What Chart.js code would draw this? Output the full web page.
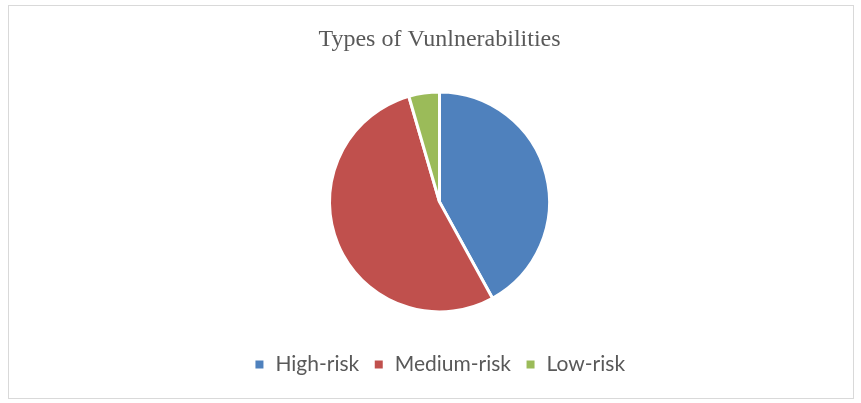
<!DOCTYPE html>
<html>
<head>
<meta charset="utf-8">
<script src="https://cdn.jsdelivr.net/npm/chart.js@4"></script>
<style>
  html, body { margin: 0; padding: 0; background: #fff; }
  #wrap { position: relative; width: 861px; height: 403px; }
  #frame { position: absolute; left: 8px; top: 5px; width: 844px; height: 392px; border: 1px solid #d9d9d9; pointer-events: none; }
</style>
</head>
<body>
<div id="wrap">
  <canvas id="vulnChart" width="861" height="403"></canvas>
  <div id="frame"></div>
</div>
<script>
const categories = ["High-risk", "Medium-risk", "Low-risk"];
const shares = [42, 53.5, 4.5];
const sliceColors = ["#4F81BD", "#C0504D", "#9BBB59"];

document.addEventListener("DOMContentLoaded", () => {
  const ctx = document.getElementById("vulnChart").getContext("2d");

  new Chart(ctx, {
    type: "pie",
    data: {
      labels: categories,
      datasets: [
        {
          data: shares,
          backgroundColor: sliceColors,
          borderColor: "#ffffff",
          borderWidth: 3,
          hoverOffset: 0,
          radius: 110
        }
      ]
    },
    options: {
      responsive: false,
      animation: false,
      layout: {
        padding: { top: 17, bottom: 18, left: 18, right: 0 }
      },
      plugins: {
        title: {
          display: true,
          text: "Types of Vunlnerabilities",
          color: "#595959",
          font: { family: "Liberation Serif", size: 24, weight: "normal" },
          padding: { top: 8, bottom: 10 }
        },
        legend: {
          position: "bottom",
          labels: {
            color: "#595959",
            font: { family: "Lato", size: 21 },
            boxWidth: 11,
            boxHeight: 11,
            padding: 14
          }
        },
        tooltip: { enabled: false }
      }
    }
  });
});
</script>
</body>
</html>
